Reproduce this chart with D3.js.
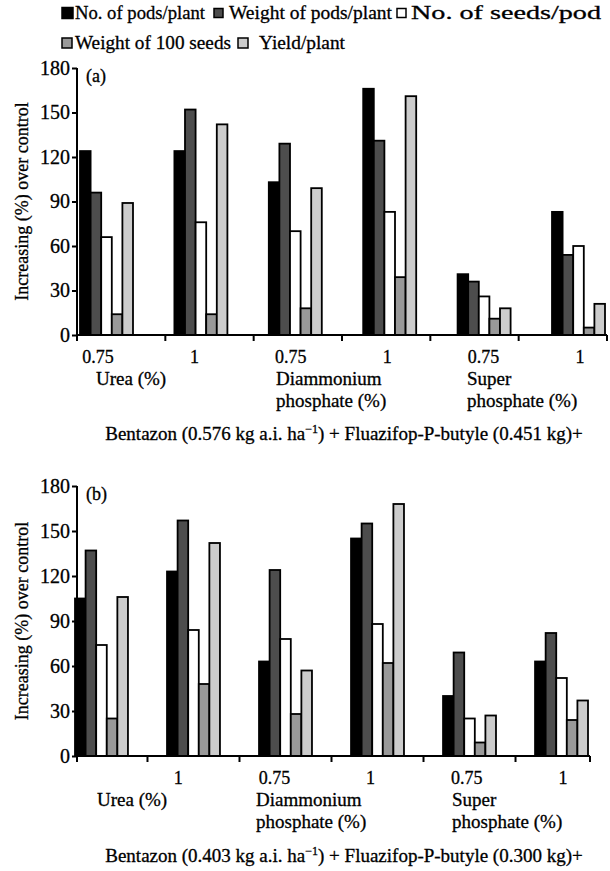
<!DOCTYPE html>
<html>
<head>
<meta charset="utf-8">
<script src="https://cdnjs.cloudflare.com/ajax/libs/d3/7.8.5/d3.min.js"></script>
<style>
  body { margin: 0; background: #fff; }
  svg { display: block; }
  text { font-family: "Liberation Serif", "Times New Roman", serif; fill: #000; stroke: #000; stroke-width: 0.3px; }
</style>
</head>
<body>
<svg id="fig" width="610" height="871"></svg>
<script>
// series and categories
var series = ["No. of pods/plant", "Weight of pods/plant", "No. of seeds/pod", "Weight of 100 seeds", "Yield/plant"];
var colors = ["#000000", "#4d4d4d", "#ffffff", "#999999", "#cccccc"];
var groups = ["Urea 0.75", "Urea 1", "DAP 0.75", "DAP 1", "SP 0.75", "SP 1"];
var yTicks = [0, 30, 60, 90, 120, 150, 180];
var tickLabelsA = ["0.75", "1", "0.75", "1", "0.75", "1"];
var tickLabelsB = ["", "1", "0.75", "1", "0.75", "1"];

// panel (a)
var podsA      = [124, 124, 103, 166, 41, 83];
var podWeightA = [96, 152, 129, 131, 36, 54];
var seedsA     = [66, 76, 70, 83, 26, 60];
var seed100A   = [14, 14, 18, 39, 11, 5];
var yieldA     = [89, 142, 99, 161, 18, 21];

// panel (b)
var podsB      = [105, 123, 63, 145, 40, 63];
var podWeightB = [137, 157, 124, 155, 69, 82];
var seedsB     = [74, 84, 78, 88, 25, 52];
var seed100B   = [25, 48, 28, 62, 9, 24];
var yieldB     = [106, 142, 57, 168, 27, 37];

var svg = d3.select("#fig");

function drawPanel(cfg) {
  var g = svg.append("g");
  var y = d3.scaleLinear().domain([0, 180]).range([cfg.y0, cfg.y180]);
  var x = d3.scaleBand().domain(groups).range(cfg.groupRange)
      .paddingInner(cfg.padInner).paddingOuter(0);
  var xs = d3.scaleBand().domain(d3.range(series.length)).range([0, x.bandwidth()]);
  var lx = d3.scalePoint().domain(groups).range(cfg.labelRange);

  // bars
  groups.forEach(function(grp, i) {
    var vals = cfg.data.map(function(arr) { return arr[i]; });
    g.append("g")
      .attr("transform", "translate(" + x(grp) + ",0)")
      .selectAll("rect").data(vals).enter().append("rect")
      .attr("x", function(d, j) { return xs(j); })
      .attr("y", function(d) { return y(d); })
      .attr("width", xs.bandwidth())
      .attr("height", function(d) { return y(0) - y(d); })
      .attr("fill", function(d, j) { return colors[j]; })
      .attr("stroke", "#000")
      .attr("stroke-width", 1.8);
  });

  // y axis
  var yAxis = d3.axisLeft(y).tickValues(yTicks).tickSize(5).tickPadding(2);
  var ya = g.append("g").attr("transform", "translate(" + cfg.axisStart + ",0)").call(yAxis);
  ya.select(".domain").attr("stroke-width", 2).attr("d", "M0," + y(0) + "V" + y(180));
  ya.selectAll(".tick line").attr("stroke-width", 2);
  ya.selectAll(".tick text").style("font-size", "20px").style("font-family", "Liberation Serif");

  // x axis line + ticks
  g.append("line")
    .attr("x1", cfg.axisStart).attr("x2", cfg.axisEnd)
    .attr("y1", y(0)).attr("y2", y(0))
    .attr("stroke", "#000").attr("stroke-width", 2);
  var tickPos = cfg.ticks(x);
  g.selectAll(".xt").data(tickPos).enter().append("line")
    .attr("x1", function(d) { return d; }).attr("x2", function(d) { return d; })
    .attr("y1", y(0)).attr("y2", y(0) + 6)
    .attr("stroke", "#000").attr("stroke-width", 2);

  g.selectAll(".xl").data(groups).enter().append("text")
    .attr("x", function(d) { return lx(d); })
    .attr("y", y(0) + 28)
    .attr("text-anchor", "middle")
    .style("font-size", "18px")
    .text(function(d, i) { return cfg.tickLabels[i]; });

  // category labels
  cfg.cats.forEach(function(c) {
    var t = g.append("text").attr("x", c.x).attr("y", y(0) + 50).style("font-size", "19px");
    c.lines.forEach(function(l, k) {
      t.append("tspan").attr("x", c.x).attr("dy", k === 0 ? 0 : 22).text(l);
    });
  });

  // panel letter
  g.append("text").attr("x", cfg.axisStart + 9).attr("y", y(180) + 14)
    .style("font-size", "18px").text(cfg.letter);

  // y title
  g.append("text")
    .attr("transform", "translate(" + cfg.titleX + "," + ((y(0) + y(180)) / 2) + ") rotate(-90)")
    .attr("text-anchor", "middle")
    .style("font-size", "18px")
    .text("Increasing (%) over control");

  // treatment caption
  var cap = g.append("text").attr("x", cfg.captionX).attr("y", cfg.captionY)
    .attr("text-anchor", "middle").style("font-size", "19px");
  cap.append("tspan").text("Bentazon (" + cfg.bentazon + " kg a.i. ha");
  cap.append("tspan").attr("dy", -7).style("font-size", "12px").text("\u22121");
  cap.append("tspan").attr("dy", 7).text(") + Fluazifop-P-butyle (" + cfg.fluazifop + " kg)+");
}

drawPanel({
  data: [podsA, podWeightA, seedsA, seed100A, yieldA],
  y0: 335, y180: 68,
  groupRange: [80, 605], padInner: 0.4386,
  axisStart: 77, axisEnd: 607,
  ticks: function(x) {
    var tx = d3.scaleBand().domain(groups).range([77, 607]);
    return groups.map(function(d) { return tx(d); }).concat([607]);
  },
  labelRange: [98, 580],
  tickLabels: tickLabelsA,
  cats: [{x: 96, lines: ["Urea (%)"]}, {x: 276, lines: ["Diammonium", "phosphate (%)"]}, {x: 467, lines: ["Super", "phosphate (%)"]}],
  letter: "(a)",
  titleX: 28,
  captionX: 344, captionY: 440,
  bentazon: "0.576", fluazifop: "0.451"
});

drawPanel({
  data: [podsB, podWeightB, seedsB, seed100B, yieldB],
  y0: 756, y180: 486,
  groupRange: [75, 588], padInner: 0.4245,
  axisStart: 77, axisEnd: 590,
  ticks: function(x) {
    var gap = x.step() * x.paddingInner() / 2;
    return [77].concat(groups.slice(1).map(function(d) { return x(d) - gap; })).concat([590]);
  },
  labelRange: [82, 563],
  tickLabels: tickLabelsB,
  cats: [{x: 97, lines: ["Urea (%)"]}, {x: 256, lines: ["Diammonium", "phosphate (%)"]}, {x: 452, lines: ["Super", "phosphate (%)"]}],
  letter: "(b)",
  titleX: 28,
  captionX: 344, captionY: 862,
  bentazon: "0.403", fluazifop: "0.300"
});

// legend
var legendItems = [
  {i: 0, x: 62, y: 14, size: 11, tx: 75, len: 130},
  {i: 1, x: 214, y: 14, size: 9, tx: 229, len: 163},
  {i: 2, x: 397, y: 14, size: 9, tx: 411, len: 190},
  {i: 3, x: 62, y: 44, size: 10, tx: 75, len: 156},
  {i: 4, x: 238, y: 44, size: 10, tx: 259, len: 86}
];
var leg = svg.append("g");
legendItems.forEach(function(it) {
  leg.append("rect")
    .attr("x", it.x).attr("y", it.y - it.size / 2 - 1)
    .attr("width", it.size).attr("height", it.size)
    .attr("fill", colors[it.i]).attr("stroke", "#000").attr("stroke-width", 1.5);
  leg.append("text")
    .attr("x", it.tx).attr("y", it.y + 5)
    .attr("textLength", it.len).attr("lengthAdjust", "spacingAndGlyphs")
    .style("font-size", "19px")
    .text(series[it.i]);
});
</script>
</body>
</html>
